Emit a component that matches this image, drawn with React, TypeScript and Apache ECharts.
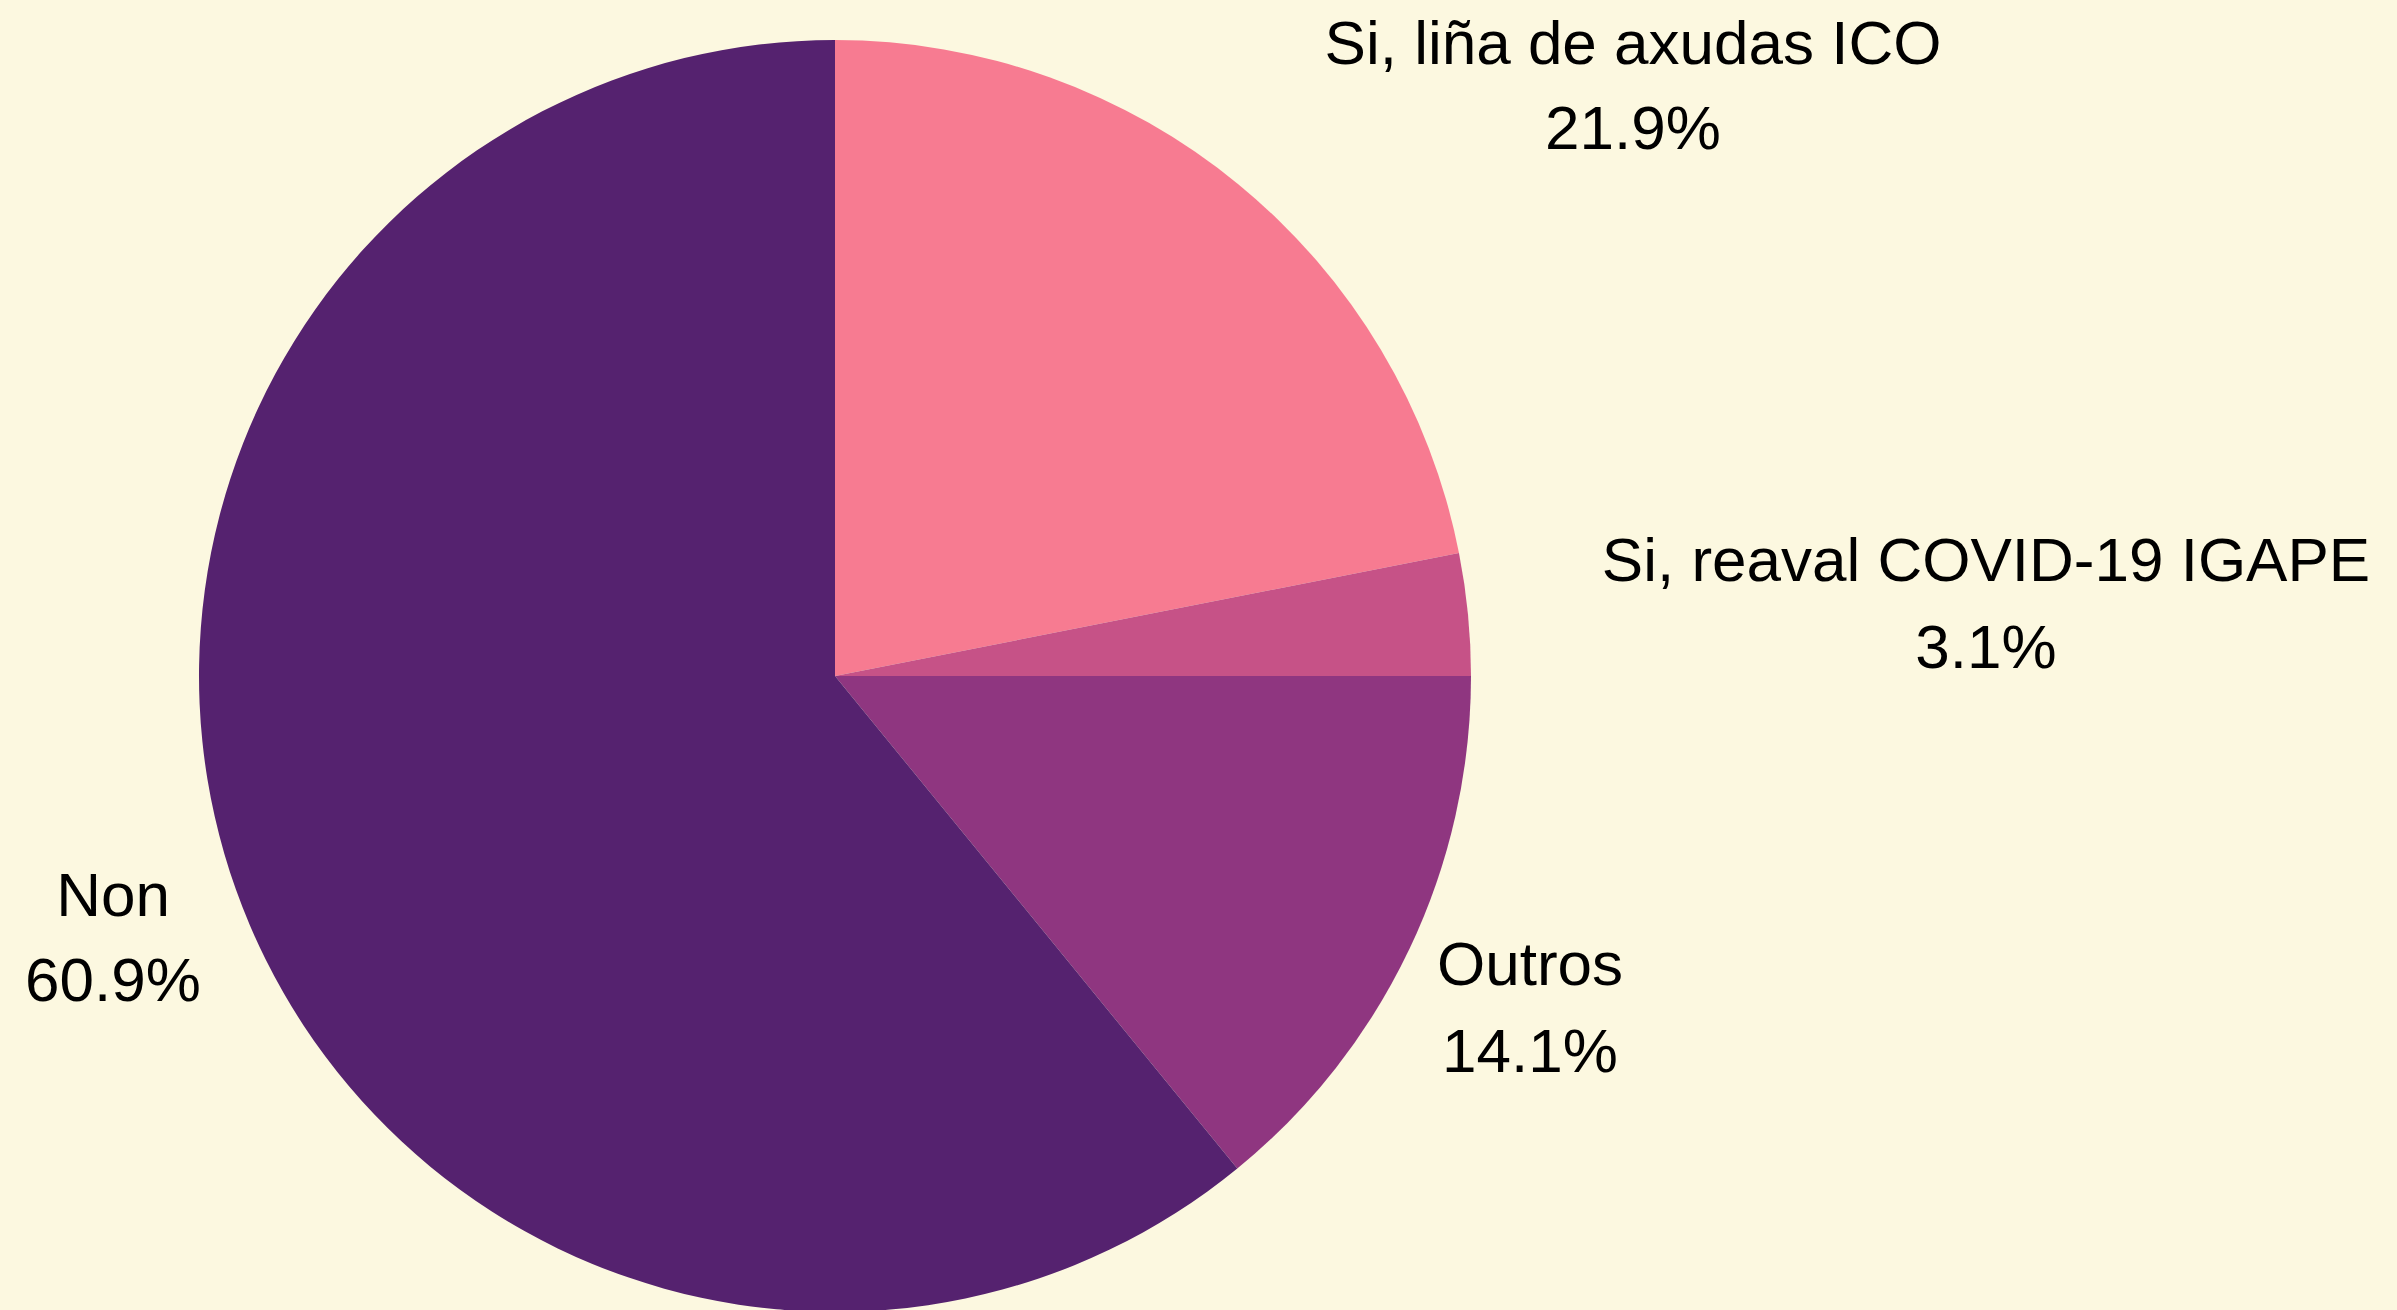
import React, { useEffect, useRef } from "react";
import * as echarts from "echarts";

const categories = ["Si, liña de axudas ICO", "Si, reaval COVID-19 IGAPE", "Outros", "Non"];
const values = [21.9, 3.1, 14.1, 60.9];
const colors = ["#F77B91", "#C65287", "#8F3680", "#55226F"];

// label layout (presentation only)
const labelPos = [
  { x: 1633, y1: 42, y2: 127 },
  { x: 1986, y1: 559, y2: 646 },
  { x: 1530, y1: 963, y2: 1050 },
  { x: 113, y1: 894, y2: 979 },
];

export default function App() {
  const ref = useRef<HTMLDivElement>(null);
  useEffect(() => {
    document.body.style.margin = "0";
    if (!ref.current) return;
    const chart = echarts.init(ref.current, null, { renderer: "svg" });
    const total = values.reduce((a, b) => a + b, 0);
    const font = "Liberation Sans, Arial, sans-serif";
    const graphics: any[] = [];
    categories.forEach((c, i) => {
      const p = labelPos[i];
      const pct = ((values[i] / total) * 100).toFixed(1) + "%";
      graphics.push({
        type: "text",
        x: p.x,
        y: p.y1,
        silent: true,
        style: { text: c, fontSize: 62, fontFamily: font, fill: "#000", textAlign: "center", textVerticalAlign: "middle" },
      });
      graphics.push({
        type: "text",
        x: p.x,
        y: p.y2,
        silent: true,
        style: { text: pct, fontSize: 62, fontFamily: font, fill: "#000", textAlign: "center", textVerticalAlign: "middle" },
      });
    });
    chart.setOption({
      animation: false,
      backgroundColor: "#FCF8E0",
      graphic: graphics,
      series: [
        {
          type: "pie",
          center: [835, 676],
          radius: 636,
          startAngle: 90,
          clockwise: true,
          label: { show: false },
          labelLine: { show: false },
          emphasis: { disabled: true },
          itemStyle: { borderWidth: 0 },
          data: categories.map((c, i) => ({ name: c, value: values[i], itemStyle: { color: colors[i] } })),
        },
      ],
    });
    return () => chart.dispose();
  }, []);
  return <div ref={ref} style={{ position: "fixed", left: 0, top: 0, width: 2397, height: 1310 }} />;
}
